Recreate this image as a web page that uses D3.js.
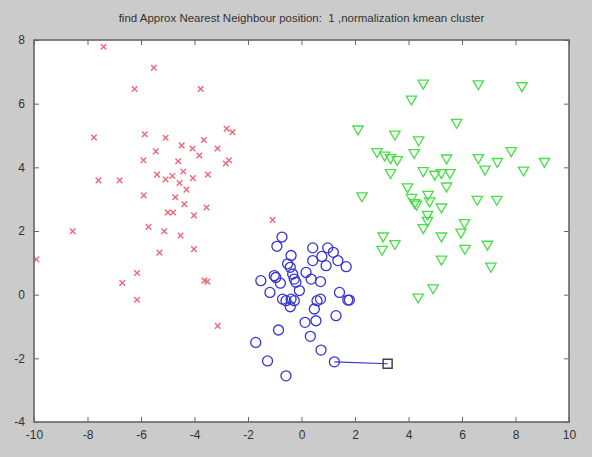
<!DOCTYPE html>
<html>
<head>
<meta charset="utf-8">
<script src="https://cdn.jsdelivr.net/npm/d3@7"></script>
<style>
  body { margin: 0; background: #cbcbcb; }
  svg { display: block; }
</style>
</head>
<body>
<span></span>
<script>
// cluster 1 (red x)
var redPoints = [
  [-7.4, 7.79], [-5.52, 7.13], [-6.24, 6.46], [-3.77, 6.46], [-2.80, 5.21], [-2.58, 5.10],
  [-7.76, 4.94], [-5.86, 5.04], [-5.08, 4.93], [-3.65, 4.86], [-4.48, 4.69], [-4.07, 4.59],
  [-3.14, 4.59], [-5.45, 4.50], [-3.82, 4.37], [-5.91, 4.22], [-4.61, 4.19], [-2.71, 4.22],
  [-2.83, 4.12], [-4.42, 3.87], [-5.40, 3.77], [-5.08, 3.62], [-4.83, 3.73], [-4.06, 3.66],
  [-3.50, 3.77], [-7.59, 3.59], [-6.80, 3.59], [-4.56, 3.51], [-4.30, 3.30], [-5.90, 3.12],
  [-4.72, 3.06], [-4.38, 2.84], [-3.55, 2.74], [-5.00, 2.58], [-4.80, 2.58], [-4.02, 2.49],
  [-8.55, 1.99], [-5.72, 2.13], [-5.13, 1.99], [-4.52, 1.86], [-9.91, 1.11], [-5.31, 1.32],
  [-4.02, 1.43], [-6.15, 0.68], [-6.70, 0.37], [-3.63, 0.44], [-3.52, 0.41], [-6.15, -0.16],
  [-3.13, -0.98], [-1.08, 2.35]
];

// cluster 2 (blue o)
var bluePoints = [
  [-0.73, 1.81], [-0.92, 1.52], [-0.39, 1.23], [0.42, 1.47], [0.98, 1.47], [1.19, 1.33],
  [0.76, 1.20], [0.42, 1.07], [0.92, 0.91], [1.36, 1.07], [1.67, 0.88], [-0.52, 0.97],
  [-0.42, 0.86], [-1.02, 0.60], [-0.96, 0.54], [-1.52, 0.44], [-0.79, 0.36], [-0.33, 0.65],
  [-0.27, 0.49], [-0.21, 0.39], [0.17, 0.70], [0.36, 0.49], [0.71, 0.41], [-0.08, 0.13],
  [-1.18, 0.07], [-0.71, -0.14], [-0.58, -0.19], [-0.39, -0.14], [-0.27, -0.19], [-0.42, -0.38],
  [0.58, -0.19], [0.71, -0.14], [0.48, -0.45], [1.42, 0.07], [1.73, -0.17], [1.79, -0.17],
  [1.29, -0.66], [0.54, -0.82], [0.13, -0.87], [-0.86, -1.11], [0.33, -1.31], [-1.71, -1.50],
  [0.73, -1.74], [-1.27, -2.08], [1.23, -2.11], [-0.58, -2.55]
];

// cluster 3 (green v)
var greenPoints = [
  [4.55, 6.66], [6.61, 6.64], [8.24, 6.58], [4.11, 6.16], [5.80, 5.43], [2.11, 5.22],
  [3.49, 5.06], [4.38, 4.88], [2.82, 4.51], [3.11, 4.40], [3.33, 4.32], [3.58, 4.26],
  [4.21, 4.48], [5.42, 4.31], [6.61, 4.32], [7.32, 4.20], [7.84, 4.54], [9.08, 4.20],
  [6.86, 3.96], [8.30, 3.93], [3.33, 3.85], [4.55, 3.91], [4.98, 3.80], [5.23, 3.85],
  [5.55, 3.85], [5.42, 3.43], [3.96, 3.40], [2.26, 3.12], [4.11, 3.07], [4.23, 2.91],
  [4.73, 3.17], [4.79, 2.96], [5.23, 2.77], [6.57, 3.01], [7.30, 3.01], [4.30, 2.86],
  [4.71, 2.54], [4.71, 2.35], [4.55, 2.12], [6.09, 2.28], [5.96, 1.98], [5.23, 1.86],
  [3.05, 1.86], [3.49, 1.62], [3.01, 1.44], [6.11, 1.47], [6.95, 1.60], [5.23, 1.13],
  [7.08, 0.91], [4.92, 0.23], [4.36, -0.06]
];

// query point and its approximate nearest neighbour
var queryPoint = [3.22, -2.17];
var nearestPoint = [1.23, -2.11];

var xTicks = [-10, -8, -6, -4, -2, 0, 2, 4, 6, 8, 10];
var yTicks = [-4, -2, 0, 2, 4, 6, 8];
var titleText = "find Approx Nearest Neighbour position:  1 ,normalization kmean cluster";

var width = 592;
var height = 457;
var plotLeft = 34, plotRight = 569, plotTop = 40, plotBottom = 422;

var svg = d3.select("span")
  .append("svg")
  .attr("width", width)
  .attr("height", height);

svg.append("rect")
  .attr("width", width)
  .attr("height", height)
  .attr("fill", "#cbcbcb");

var x = d3.scaleLinear().domain([-10, 10]).range([plotLeft, plotRight]);
var y = d3.scaleLinear().domain([-4, 8]).range([plotBottom, plotTop]);

//plot area
svg.append("rect")
  .attr("x", plotLeft)
  .attr("y", plotTop)
  .attr("width", plotRight - plotLeft)
  .attr("height", plotBottom - plotTop)
  .attr("fill", "#fff");

var plot = svg.append("g");

//red x markers
plot.append("g")
  .selectAll("path")
  .data(redPoints)
  .enter()
  .append("path")
  .attr("d", function(d) {
    var cx = x(d[0]), cy = y(d[1]), s = 2.8;
    return "M" + (cx - s) + "," + (cy - s) + "L" + (cx + s) + "," + (cy + s) +
           "M" + (cx - s) + "," + (cy + s) + "L" + (cx + s) + "," + (cy - s);
  })
  .attr("stroke", "#f06878")
  .attr("stroke-width", 1.4)
  .attr("fill", "none");

//blue circles
plot.append("g")
  .selectAll("circle")
  .data(bluePoints)
  .enter()
  .append("circle")
  .attr("cx", function(d) { return x(d[0]); })
  .attr("cy", function(d) { return y(d[1]); })
  .attr("r", 5)
  .attr("fill", "none")
  .attr("stroke", "#3535d0")
  .attr("stroke-width", 1.3);

//green down triangles
plot.append("g")
  .selectAll("path")
  .data(greenPoints)
  .enter()
  .append("path")
  .attr("d", d3.symbol().type(d3.symbolTriangle).size(46))
  .attr("transform", function(d) {
    return "translate(" + x(d[0]) + "," + (y(d[1]) + 0.5) + ") rotate(180)";
  })
  .attr("fill", "none")
  .attr("stroke", "#44e044")
  .attr("stroke-width", 1.3);

//nearest neighbour link
plot.append("line")
  .attr("x1", x(nearestPoint[0]))
  .attr("y1", y(nearestPoint[1]))
  .attr("x2", x(queryPoint[0]))
  .attr("y2", y(queryPoint[1]))
  .attr("stroke", "#3535d0")
  .attr("stroke-width", 1.2);

plot.append("rect")
  .attr("x", x(queryPoint[0]) - 4.5)
  .attr("y", y(queryPoint[1]) - 4.5)
  .attr("width", 9)
  .attr("height", 9)
  .attr("fill", "none")
  .attr("stroke", "#444")
  .attr("stroke-width", 1.5);

//axes
var tickLen = 5;
var fmt = function(d) { return String(d); };
var axisG = svg.append("g");

axisG.append("g")
  .attr("transform", "translate(0," + plotBottom + ")")
  .call(d3.axisBottom(x).tickValues(xTicks).tickSizeInner(-tickLen).tickSizeOuter(0).tickPadding(8).tickFormat(fmt));
axisG.append("g")
  .attr("transform", "translate(0," + plotTop + ")")
  .call(d3.axisTop(x).tickValues(xTicks).tickSizeInner(-tickLen).tickSizeOuter(0).tickFormat(""));
axisG.append("g")
  .attr("transform", "translate(" + plotLeft + ",0)")
  .call(d3.axisLeft(y).tickValues(yTicks).tickSizeInner(-tickLen).tickSizeOuter(0).tickPadding(9).tickFormat(fmt));
axisG.append("g")
  .attr("transform", "translate(" + plotRight + ",0)")
  .call(d3.axisRight(y).tickValues(yTicks).tickSizeInner(-tickLen).tickSizeOuter(0).tickFormat(""));

axisG.selectAll(".domain").remove();
axisG.selectAll(".tick line").attr("stroke", "#666").attr("stroke-width", 1);
axisG.selectAll(".tick text")
  .attr("fill", "#333")
  .style("font-family", "Liberation Sans, Arial, sans-serif")
  .style("font-size", "12px");

svg.append("rect")
  .attr("x", plotLeft)
  .attr("y", plotTop)
  .attr("width", plotRight - plotLeft)
  .attr("height", plotBottom - plotTop)
  .attr("fill", "none")
  .attr("stroke", "#666")
  .attr("stroke-width", 1.6);

//title
svg.append("text")
  .attr("x", (plotLeft + plotRight) / 2)
  .attr("y", 22)
  .attr("text-anchor", "middle")
  .attr("fill", "#333")
  .style("font-family", "Liberation Sans, Arial, sans-serif")
  .style("font-size", "11.5px")
  .style("white-space", "pre")
  .text(titleText);
</script>
</body>
</html>
